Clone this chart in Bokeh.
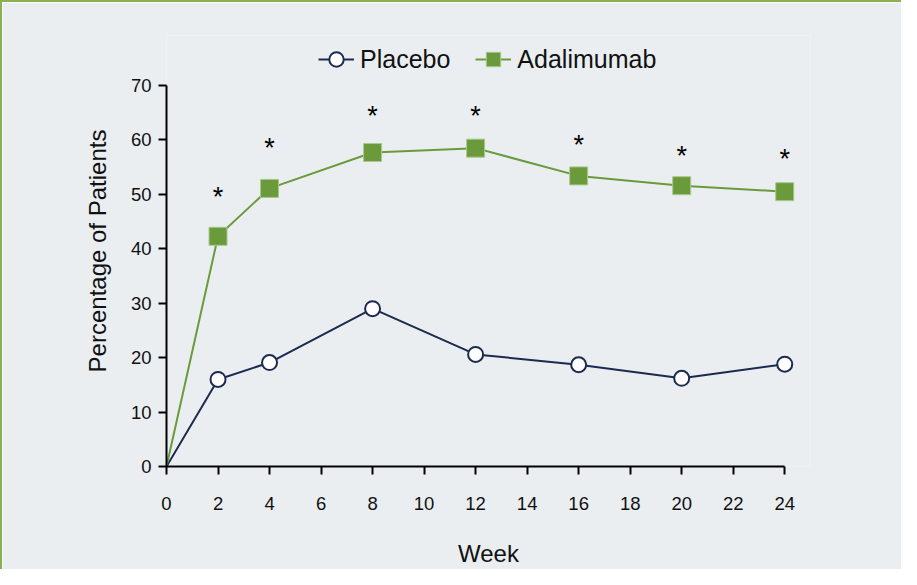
from bokeh.plotting import figure
from bokeh.models import Legend, LegendItem, ColumnDataSource, FixedTicker, Range1d
from bokeh.core.properties import value
from bokeh.embed import file_html
from bokeh.resources import INLINE

weeks = [0, 2, 4, 8, 12, 16, 20, 24]
placebo = [0, 16.0, 19.1, 29.0, 20.6, 18.7, 16.2, 18.8]
adalimumab = [0, 42.3, 51.1, 57.7, 58.5, 53.4, 51.6, 50.5]
sig_weeks = [2, 4, 8, 12, 16, 20, 24]
sig_y = [50.0, 59.0, 65.0, 65.0, 59.6, 57.7, 57.0]
x_ticks = list(range(0, 25, 2))
y_ticks = list(range(0, 71, 10))

NAVY = "#1b2a4e"
GREEN = "#6a9a3b"
BG = "#eaeef1"
FONT = "Liberation Sans"

p = figure(width=901, height=569, output_backend="svg", toolbar_location=None,
           x_range=Range1d(0, 25), y_range=Range1d(0, 79.2),
           min_border_left=164, min_border_right=93, min_border_top=33, min_border_bottom=105)
p.background_fill_color = BG
p.border_fill_color = BG
p.outline_line_color = None
p.grid.visible = False
p.styles = {"border-left": "2px solid #8db04f", "border-top": "2px solid #8db04f"}

for ax in (p.xaxis[0], p.yaxis[0]):
    ax.axis_line_width = 2
    ax.axis_line_color = "black"
    ax.major_tick_line_width = 2
    ax.major_tick_line_color = "black"
    ax.major_tick_out = 8
    ax.major_tick_in = 0
    ax.minor_tick_line_color = None
    ax.major_label_text_font = FONT
    ax.major_label_text_font_size = "18.5px"
    ax.major_label_text_color = "#111111"
    ax.axis_label_text_font = FONT
    ax.axis_label_text_font_size = "24px"
    ax.axis_label_text_font_style = "normal"
    ax.axis_label_text_color = "#111111"

p.xaxis.ticker = FixedTicker(ticks=x_ticks)
p.yaxis.ticker = FixedTicker(ticks=y_ticks)
p.xaxis.bounds = (0, 24)
p.yaxis.bounds = (0, 70)
p.xaxis.axis_label = "Week"
p.yaxis.axis_label = "Percentage of Patients"
p.xaxis.major_label_standoff = 22
p.yaxis.major_label_standoff = 7
p.xaxis.axis_label_standoff = 27
p.yaxis.axis_label_standoff = 17

src = ColumnDataSource(dict(w=weeks, pl=placebo, ad=adalimumab))
l1 = p.line("w", "pl", source=src, line_color=NAVY, line_width=2)
l2 = p.line("w", "ad", source=src, line_color=GREEN, line_width=2)
c1 = p.scatter("w", "pl", source=ColumnDataSource(dict(w=weeks[1:], pl=placebo[1:])),
               marker="circle", size=15, fill_color="white", line_color=NAVY, line_width=2)
s2 = p.scatter("w", "ad", source=ColumnDataSource(dict(w=weeks[1:], ad=adalimumab[1:])),
               marker="square", size=18, fill_color=GREEN, line_color="#a9c98a", line_width=1)

p.text(x=sig_weeks, y=sig_y, text=["*"] * len(sig_weeks), text_align="center",
       text_baseline="middle", y_offset=3, text_font=value(FONT), text_font_size="27px",
       text_color="black")

legend = Legend(items=[LegendItem(label="Placebo", renderers=[l1, c1]),
                       LegendItem(label="Adalimumab", renderers=[l2, s2])],
                orientation="horizontal", location=(152, 387))
legend.background_fill_alpha = 0
legend.border_line_color = None
legend.padding = 0
legend.margin = 0
legend.spacing = 25
legend.glyph_width = 36
legend.glyph_height = 40
legend.label_standoff = 6
legend.label_text_font = FONT
legend.label_text_font_size = "25px"
legend.label_text_color = "#111111"
p.add_layout(legend, "center")

open("out.html", "w").write(file_html(p, INLINE))
